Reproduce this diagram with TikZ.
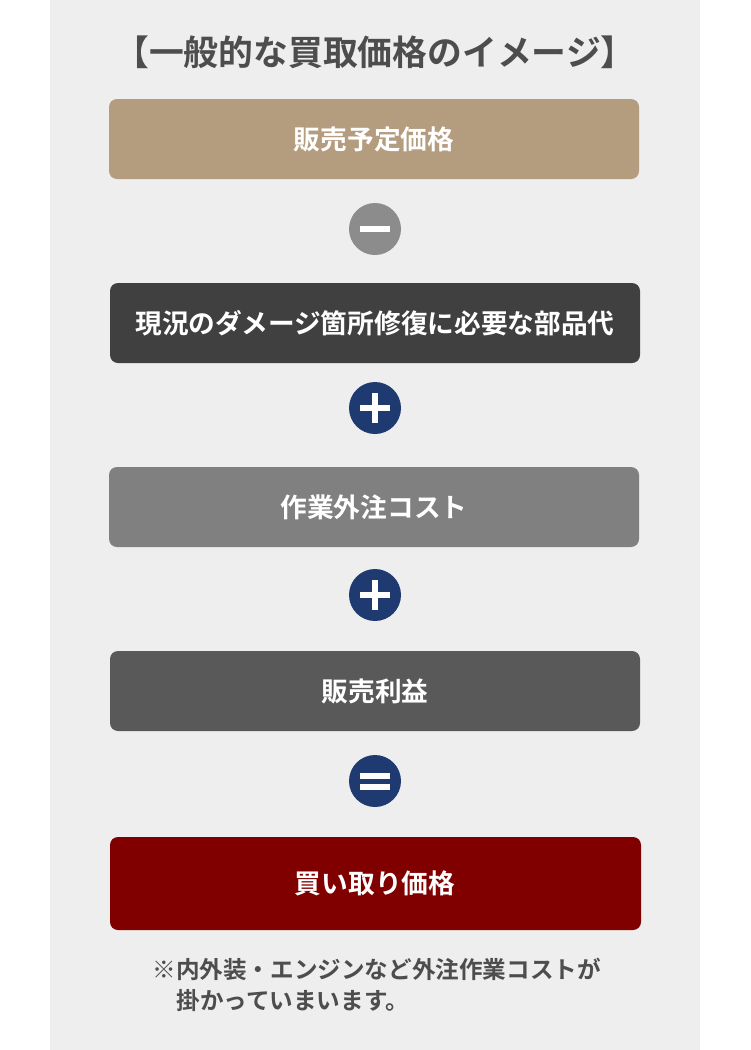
\documentclass[tikz,border=0pt]{standalone}
\usepackage{fontspec}
\newfontfamily\jp{Noto Sans CJK JP}[BoldFont={* Bold}]
\definecolor{panel}{HTML}{EEEEEE}
\definecolor{tan}{HTML}{B49C7E}
\definecolor{dark}{HTML}{404040}
\definecolor{midgray}{HTML}{808080}
\definecolor{gray5}{HTML}{595959}
\definecolor{maroon}{HTML}{800000}
\definecolor{navy}{HTML}{1F3A70}
\definecolor{minusgray}{HTML}{8C8C8C}
\definecolor{txt}{HTML}{4D4D4D}
\begin{document}
\begin{tikzpicture}[x=1pt,y=-1pt,
  box/.style={rounded corners=8pt, inner sep=0pt, text=white, font=\jp\bfseries\fontsize{26.7}{30}\selectfont},
  opc/.style={circle, inner sep=0pt, minimum size=52pt},
  note/.style={anchor=west, font=\jp\bfseries\fontsize{23.6}{30}\selectfont, text=txt}]
\useasboundingbox (0,0) rectangle (750,1050);
\fill[white] (0,0) rectangle (750,1050);
\fill[panel] (50,0) rectangle (700,1050);
\node[font=\jp\bfseries\fontsize{34.8}{38}\selectfont, text=txt] (title) at (375,52) {【一般的な買取価格のイメージ】};
% boxes
\fill[tan, rounded corners=8pt] (109,99) rectangle (639,179);
\node[box] (b1) at (374,139) {販売予定価格};
\node[opc, fill=minusgray] (c1) at (375,229) {};
\fill[white] (360,226) rectangle (390,232);
\fill[dark, rounded corners=8pt] (110,283) rectangle (640,363);
\node[box] (b2) at (375,323) {現況のダメージ箇所修復に必要な部品代};
\node[opc, fill=navy] (c2) at (375,408) {};
\fill[white] (360,405) rectangle (390,411);
\fill[white] (372,393) rectangle (378,423);
\fill[midgray, rounded corners=8pt] (109,467) rectangle (639,547);
\node[box] (b3) at (374,507) {作業外注コスト};
\node[opc, fill=navy] (c3) at (375,595) {};
\fill[white] (360,592) rectangle (390,598);
\fill[white] (372,580) rectangle (378,610);
\fill[gray5, rounded corners=8pt] (110,651) rectangle (640,731);
\node[box] (b4) at (375,691) {販売利益};
\node[opc, fill=navy] (c4) at (375,781) {};
\fill[white] (360,773) rectangle (390,779);
\fill[white] (360,784) rectangle (390,790);
\fill[maroon, rounded corners=8pt] (110,837) rectangle (641,930);
\node[box] (b5) at (375,883) {買い取り価格};
\node[note] (n1) at (149,969) {※内外装・エンジンなど外注作業コストが};
\node[note] (n2) at (173,1001) {掛かっていまいます。};
\end{tikzpicture}
\end{document}
